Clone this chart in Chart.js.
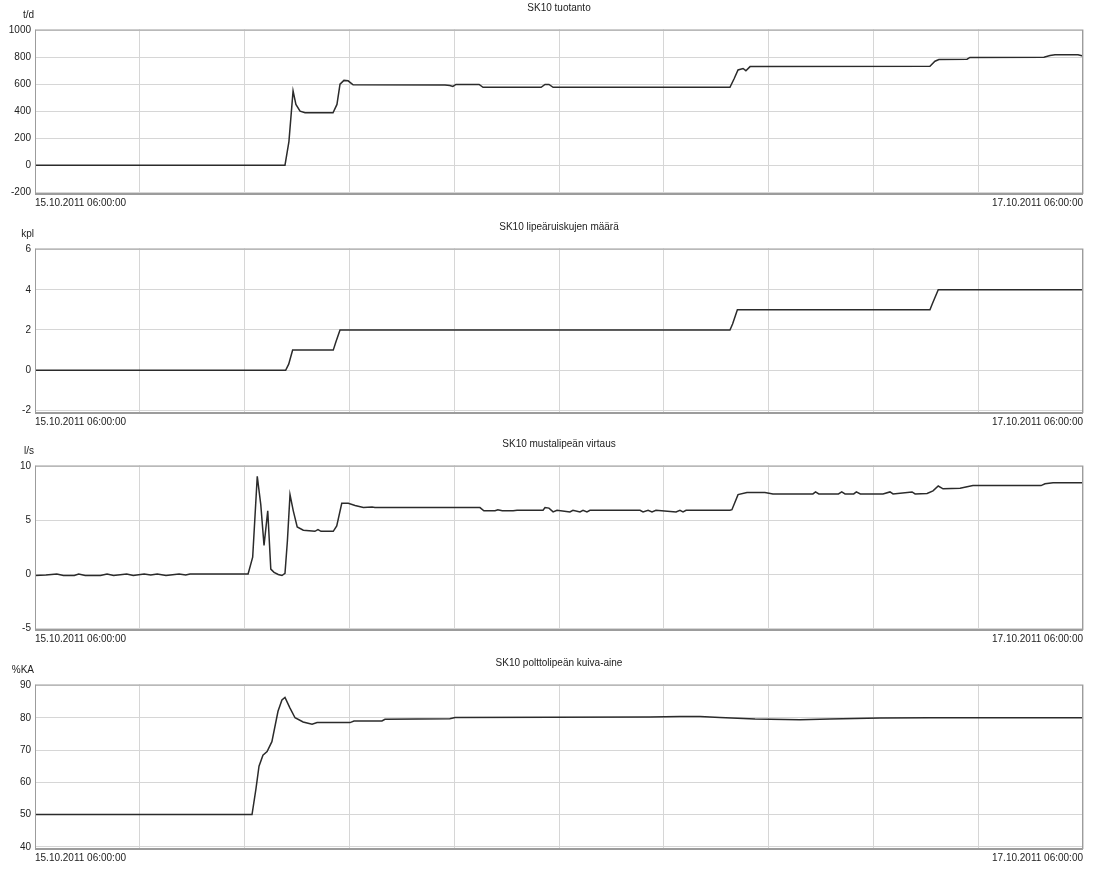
<!DOCTYPE html>
<html>
<head>
<meta charset="utf-8">
<script src="https://cdn.jsdelivr.net/npm/chart.js@4/dist/chart.umd.min.js"></script>
<style>
    body { margin: 0; background: #fff; }
    .panel { position: absolute; left: 0; width: 1096px; height: 218px; }
</style>
</head>
<body>
<div class="panel" style="top:0px"><canvas id="c1"></canvas></div>
<div class="panel" style="top:218.5px"><canvas id="c2"></canvas></div>
<div class="panel" style="top:435.5px"><canvas id="c3"></canvas></div>
<div class="panel" style="top:654.5px"><canvas id="c4"></canvas></div>
<script>
    // time axis: hours after 15.10.2011 06:00:00
    const startLabel = '15.10.2011 06:00:00';
    const endLabel = '17.10.2011 06:00:00';
    const timeTicks = [0, 4.8, 9.6, 14.4, 19.2, 24, 28.8, 33.6, 38.4, 43.2, 48];

    // SK10 tuotanto, t/d
    const prodHours = [0, 11.45, 11.63, 11.82, 11.95, 12.14, 12.37, 13.65, 13.83, 13.97, 14.15, 14.34, 14.57,
        18.78, 19.0, 19.14, 19.28, 20.34, 20.52, 23.18, 23.36, 23.54, 23.73, 31.83, 32.02, 32.2, 32.43,
        32.56, 32.75, 40.99, 41.22, 41.4, 42.69, 42.82, 46.21, 46.49, 46.72, 47.77, 48];
    const prodValues = [0, 0, 175, 550, 450, 400, 388, 388, 450, 600, 628, 625, 595,
        593, 590, 583, 598, 598, 577, 577, 598, 598, 577, 577, 640, 705, 716,
        700, 730, 733, 770, 783, 785, 798, 800, 812, 818, 818, 808];
    const prodTicks = [-200, 0, 200, 400, 600, 800, 1000];

    // SK10 lipeäruiskujen määrä, kpl
    const nozzleHours = [0, 11.48, 11.62, 11.8, 13.66, 13.78, 13.97, 31.83, 31.95, 32.17, 40.99, 41.1, 41.37, 48];
    const nozzleValues = [0, 0, 0.3, 1, 1, 1.4, 2, 2, 2.3, 3, 3, 3.3, 4, 4];
    const nozzleTicks = [-2, 0, 2, 4, 6];

    // SK10 mustalipeän virtaus, l/s
    const flowHours = [0, 0.5, 1.0, 1.3, 1.8, 2.0, 2.3, 3.0, 3.3, 3.6, 4.2, 4.5, 5.0, 5.3, 5.6, 6.0, 6.6, 6.9, 7.1,
        9.76, 9.97, 10.18, 10.34, 10.49, 10.66, 10.8, 10.95, 11.14, 11.31, 11.45, 11.56, 11.68, 11.83, 12.01,
        12.29, 12.82, 12.96, 13.1, 13.66, 13.82, 14.05, 14.35, 14.66, 15.04, 15.44, 15.57, 20.38, 20.56,
        21.07, 21.2, 21.4, 21.9, 22.08, 23.27, 23.36, 23.54, 23.73, 23.91, 24.5, 24.64, 24.96, 25.1, 25.28,
        25.42, 27.71, 27.85, 28.08, 28.26, 28.44, 29.36, 29.54, 29.68, 29.82, 31.83, 31.92, 32.2, 32.61,
        33.43, 33.8, 35.63, 35.75, 35.9, 36.8, 36.95, 37.1, 37.5, 37.62, 37.8, 38.84, 39.16, 39.3, 40.17,
        40.31, 40.86, 41.13, 41.37, 41.59, 42.37, 42.96, 46.08, 46.26, 46.63, 48];
    const flowValues = [-0.1, -0.05, 0.05, -0.1, -0.1, 0.05, -0.1, -0.1, 0.05, -0.1, 0.05, -0.1, 0.05, -0.05, 0.05, -0.1, 0.05, -0.05, 0.05,
        0.05, 1.6, 9.1, 6.5, 2.7, 5.9, 0.5, 0.2, 0, -0.1, 0.1, 3.1, 7.4, 5.9, 4.4,
        4.1, 4.0, 4.15, 4.0, 4.0, 4.5, 6.6, 6.6, 6.4, 6.2, 6.25, 6.2, 6.2, 5.9,
        5.9, 6.0, 5.9, 5.9, 5.95, 5.95, 6.2, 6.15, 5.8, 5.95, 5.8, 5.95, 5.8, 5.95, 5.8,
        5.95, 5.95, 5.8, 5.95, 5.8, 5.95, 5.8, 5.95, 5.8, 5.95, 5.95, 6.0, 7.4, 7.6,
        7.6, 7.47, 7.47, 7.65, 7.47, 7.47, 7.65, 7.47, 7.47, 7.65, 7.47, 7.47, 7.65, 7.47, 7.65,
        7.47, 7.5, 7.75, 8.2, 7.94, 8.0, 8.24, 8.24, 8.4, 8.5, 8.5];
    const flowTicks = [-5, 0, 5, 10];

    // SK10 polttolipeän kuiva-aine, %KA
    const dryHours = [0, 9.94, 10.12, 10.26, 10.44, 10.63, 10.85, 11.13, 11.31, 11.45, 11.68, 11.91, 12.28,
        12.69, 12.92, 14.43, 14.61, 15.89, 16.03, 19.0, 19.24, 28.17, 29.54, 30.46, 31.37, 32.98, 35.04,
        36.41, 38.7, 40.99, 48];
    const dryValues = [50, 50, 58, 65, 68.4, 69.5, 72.6, 82, 85.5, 86.3, 83, 80, 78.7,
        78, 78.5, 78.5, 79, 79, 79.5, 79.7, 80.1, 80.2, 80.4, 80.4, 80.1, 79.6, 79.4,
        79.6, 79.9, 80, 80];
    const dryTicks = [40, 50, 60, 70, 80, 90];

    const fontFamily = "'Liberation Sans Narrow', 'Liberation Sans', Arial, sans-serif";

    // title above the plot and unit at top-left, plus a frame round the plot area
    const panelDecor = {
        id: 'panelDecor',
        afterDraw(chart, args, opts) {
            const a = chart.chartArea;
            const ctx = chart.ctx;
            ctx.save();
            ctx.strokeStyle = '#9c9c9c';
            ctx.lineWidth = 1;
            ctx.strokeRect(a.left + 0.5, a.top + 0.5, a.right - a.left - 1, a.bottom - a.top);
            ctx.lineWidth = 2;
            ctx.beginPath();
            ctx.moveTo(a.left, a.bottom + 0.5);
            ctx.lineTo(a.right, a.bottom + 0.5);
            ctx.stroke();
            ctx.fillStyle = '#222';
            ctx.font = '10px ' + fontFamily;
            ctx.textBaseline = 'middle';
            ctx.textAlign = 'center';
            ctx.fillText(opts.title, (a.left + a.right) / 2, a.top - 21);
            ctx.textAlign = 'right';
            ctx.fillText(opts.unit, a.left - 1, a.top - 14);
            ctx.restore();
        }
    };

    function makePanel(id, title, unit, hours, values, ticks, yMin, yMax) {
        const ctx = document.getElementById(id).getContext('2d');
        return new Chart(ctx, {
            type: 'line',
            data: {
                datasets: [{
                    data: hours.map((h, i) => ({ x: h, y: values[i] })),
                    borderColor: '#2b2b2b',
                    borderWidth: 1.5,
                    pointRadius: 0,
                    tension: 0,
                    fill: false
                }]
            },
            options: {
                responsive: true,
                maintainAspectRatio: false,
                animation: false,
                layout: { padding: { top: 29.5, right: 13, left: 0, bottom: 0 } },
                plugins: {
                    legend: { display: false },
                    tooltip: { enabled: false },
                    panelDecor: { title: title, unit: unit }
                },
                scales: {
                    x: {
                        type: 'linear',
                        min: 0,
                        max: 48,
                        afterBuildTicks: s => { s.ticks = timeTicks.map(v => ({ value: v })); },
                        afterFit: s => { s.height = 24.5; },
                        grid: { color: '#d6d6d6', drawTicks: false },
                        border: { display: false },
                        ticks: {
                            align: 'inner',
                            padding: 4,
                            maxRotation: 0,
                            autoSkip: false,
                            color: '#222',
                            font: { family: fontFamily, size: 10 },
                            callback: (v, i, all) => i === 0 ? startLabel : (i === all.length - 1 ? endLabel : '')
                        }
                    },
                    y: {
                        min: yMin,
                        max: yMax,
                        afterBuildTicks: s => { s.ticks = ticks.map(v => ({ value: v })); },
                        afterFit: s => { s.width = 35; },
                        grid: { color: '#d6d6d6', drawTicks: false },
                        border: { display: false },
                        ticks: {
                            padding: 4,
                            color: '#222',
                            font: { family: fontFamily, size: 10 },
                            callback: v => String(v)
                        }
                    }
                }
            },
            plugins: [panelDecor]
        });
    }

    makePanel('c1', 'SK10 tuotanto', 't/d', prodHours, prodValues, prodTicks, -210, 1005);
    makePanel('c2', 'SK10 lipeäruiskujen määrä', 'kpl', nozzleHours, nozzleValues, nozzleTicks, -2.1, 6.05);
    makePanel('c3', 'SK10 mustalipeän virtaus', 'l/s', flowHours, flowValues, flowTicks, -5.1, 10.1);
    makePanel('c4', 'SK10 polttolipeän kuiva-aine', '%KA', dryHours, dryValues, dryTicks, 39.5, 90.3);
</script>
</body>
</html>
